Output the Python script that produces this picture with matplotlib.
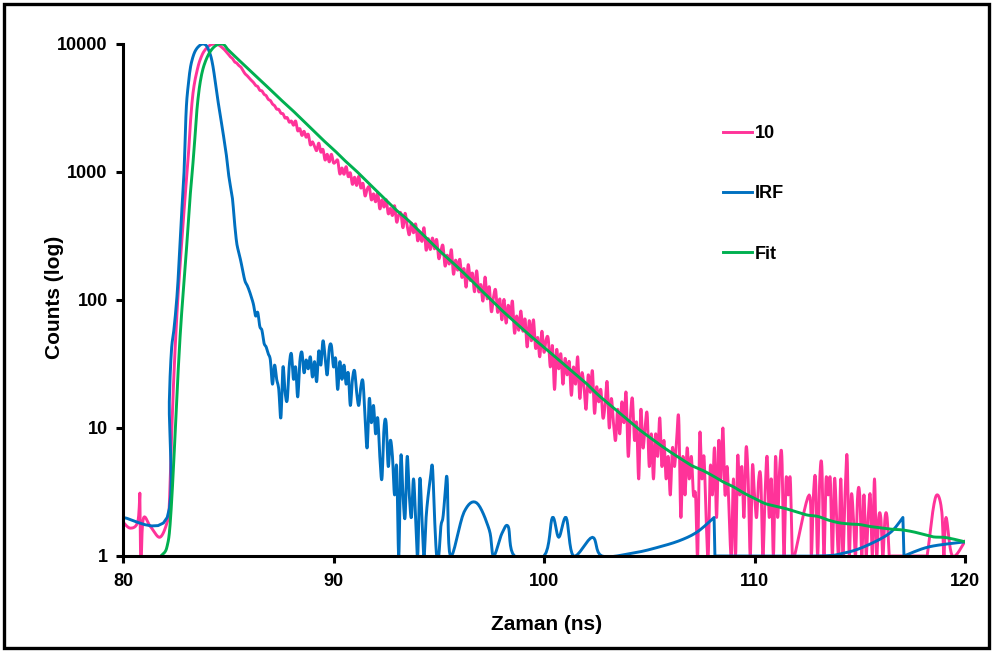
import numpy as np
import matplotlib
matplotlib.use("Agg")
import matplotlib.pyplot as plt
from matplotlib.patches import Rectangle

# ---------------- data ----------------
decay_label = "10"
irf_label = "IRF"
fit_label = "Fit"

x_ticks = [80, 90, 100, 110, 120]
y_ticks = [1, 10, 100, 1000, 10000]
y_tick_labels = ["1", "10", "100", "1000", "10000"]

# sample decay: sparse background before the rise (ns, counts)
decay_lead_t = [80.0, 80.35, 80.7, 80.8, 80.85, 80.95, 81.3, 81.75, 82.1]
decay_lead_v = [1.84, 1.65, 1.85, 3.1, 0.6, 1.9, 1.7, 1.4, 1.84]

# sample decay: 0.1 ns channels from 82.2 ns to 120.0 ns (0 = empty channel)
decay_start = 82.2
decay_step = 0.1
decay_counts = [
    2.5, 8, 22, 50, 100, 175, 300, 500, 800, 1300,
    2400, 3800, 5000, 6000, 7000, 7800, 8500, 9000, 9400, 9700,
    9900, 10000, 10000, 9900, 9700, 9400, 9100, 8700, 8350, 7950,
    7700, 7250, 7100, 6800, 6600, 6200, 5850, 5650, 5400, 5200,
    5000, 4750, 4650, 4350, 4300, 4050, 3950, 3700, 3620, 3400,
    3300, 3100, 3080, 2880, 2850, 2640, 2660, 2450, 2500, 2320,
    2500, 2100, 2180, 1930, 2080, 1870, 1970, 1630, 1720, 1580,
    1470, 1680, 1430, 1500, 1240, 1375, 1200, 1375, 1180, 1200,
    1230, 965, 1075, 960, 1100, 920, 985, 800, 910, 785,
    925, 750, 815, 650, 735, 760, 605, 675, 585, 685,
    515, 605, 532, 608, 472, 519, 457, 545, 406, 464,
    476, 367, 476, 379, 323, 399, 335, 393, 290, 336,
    287, 367, 245, 302, 248, 305, 251, 297, 211, 242,
    266, 184, 224, 191, 247, 159, 205, 171, 208, 150,
    176, 126, 189, 142, 162, 116, 169, 116, 132, 98,
    151, 102, 127, 81, 105, 120, 80, 102, 70, 101,
    66, 91, 73, 98, 55, 75, 58, 82, 57, 71,
    43, 69, 48, 70, 42, 51, 36, 57, 39, 49,
    50, 30, 44, 20, 41, 29, 38, 22, 35, 26,
    33, 18, 30, 22, 36, 17, 27, 21, 14, 26,
    19, 28, 13, 21, 16, 20, 12, 15, 23, 10,
    17, 11, 8, 14, 9, 16, 11, 19, 6, 12,
    17, 8, 11, 4, 14, 7, 10, 13, 5, 9,
    4, 9, 6, 12, 5, 8, 4, 6, 3, 7,
    5, 8, 12, 2, 6, 3, 7, 4, 6, 3,
    3, 1, 9, 4, 6, 2, 1, 5, 3, 7,
    2, 8, 4, 10, 3, 5, 2, 1, 4, 1,
    6, 3, 5, 2, 7, 4, 1, 5, 3, 2,
    4, 4, 1, 3, 6, 2, 4, 1, 6, 2,
    5, 6, 1, 4, 3, 4, 1, 1, 0, 0,
    0, 0, 0, 0, 3, 1, 3, 4, 1, 4,
    5, 1, 4, 3, 4, 1, 4, 2, 1, 4,
    1, 3, 6, 1, 3, 2, 1, 3, 3, 1,
    3, 1, 2, 3, 1, 4, 1, 2, 2, 1,
    2, 2, 1, 1, 1, 1, 1, 1, 1, 1,
    1, 1, 1, 1, 1, 1, 1, 1, 1, 1,
    1, 0, 0, 2.4, 0, 3, 0, 2.2, 1, 2,
    0, 0, 1, 0, 0, 0, 0, 0, 1.3,
]

# instrument response: flat background, then 0.1 ns channels from 82.1 ns
irf_lead_t = [80.0]
irf_lead_v = [2.0]
irf_start = 82.1
irf_step = 0.1
irf_counts = [
    2, 16, 40, 55, 80, 130, 260, 520, 1000, 3000,
    4800, 6500, 7700, 8600, 9200, 9600, 9900, 10000, 9900, 9500,
    8700, 7700, 6300, 4800, 3700, 2900, 2300, 1800, 1400, 1000,
    780, 620, 400, 280, 235, 200, 165, 140, 130, 118,
    105, 92, 75, 80, 62, 58, 46, 43, 38, 34,
    22, 31, 24, 20, 12, 30, 19, 16.5, 31, 38,
    24, 30, 17.5, 33, 39, 27, 34, 29, 36, 25,
    33, 23, 40, 31, 48, 36, 26, 42, 44, 30,
    35, 20, 33, 24, 31, 22, 27, 15, 24, 28,
    19, 15, 21, 23, 12, 7, 17, 11, 15, 9,
    12, 6, 4, 10, 11, 5, 8, 6, 3, 5,
    1, 6, 3, 2, 6, 3, 2, 4, 2, 1,
    4, 2, 1, 2, 3, 4, 5, 2, 1, 1,
    1.7, 2, 3, 4,
]
# instrument response: sparse tail (ns, counts)
irf_tail_t = [95.55, 96.2, 96.8, 97.4, 97.6, 98.0, 98.3, 98.6, 100.0, 100.4,
              100.7, 101.05, 101.4, 102.3, 102.75, 104.3, 105.5, 106.5, 107.3, 108.08,
              108.12, 113.0, 114.2, 115.2, 116.4, 117.05, 117.1, 118.3, 120.0]
irf_tail_v = [1, 2.2, 2.6, 1.6, 1, 1.5, 1.7, 1, 1, 2.0,
              1.4, 2.0, 1, 1.4, 1, 1.06, 1.18, 1.33, 1.55, 2.0,
              1, 1, 1.05, 1.18, 1.5, 2.0, 1, 1.18, 1.29]

# fitted curve (ns, counts)
fit_t = [81.8, 82.0, 82.1, 82.2, 82.3, 82.4, 82.5, 82.6, 82.7, 82.8,
         82.9, 83.0, 83.1, 83.2, 83.3, 83.4, 83.5, 83.6, 83.7, 83.8,
         83.9, 84.0, 84.1, 84.2, 84.3, 84.4, 84.5, 84.6, 84.7, 84.8,
         84.9, 85.0,
         85.5, 86.0, 86.5, 87.0, 87.5, 88.0, 88.5, 89.0, 89.5, 90.0,
         90.5, 91.0, 91.5, 92.0, 92.5, 93.0, 93.5, 94.0, 94.5, 95.0,
         95.5, 96.0, 96.5, 97.0, 97.5, 98.0, 98.5, 99.0, 99.5, 100.0,
         100.5, 101.0, 101.5, 102.0, 102.5, 103.0, 103.5, 104.0, 104.5, 105.0,
         105.5, 106.0, 106.5, 107.0, 107.5, 108.0, 108.5, 109.0, 109.5, 110.0,
         110.5, 111.0, 111.5, 112.0, 112.5, 113.0, 113.5, 114.0, 114.5, 115.0,
         115.5, 116.0, 116.5, 117.0, 117.5, 118.0, 118.5, 119.0, 119.5, 120.0]
fit_v = [1.0, 1.08, 1.2, 1.5, 2.5, 5, 11, 24, 48, 85,
         140, 230, 400, 680, 1050, 1700, 2900, 4200, 5400, 6400,
         7200, 7900, 8500, 9000, 9400, 9700, 9900, 10000, 10000, 9850,
         9450, 9000,
         7500, 6300, 5250, 4400, 3670, 3090, 2570, 2140, 1780, 1500,
         1245, 1050, 870, 724, 603, 501, 427, 355, 295, 245,
         207, 174, 145, 120, 100, 83, 70, 59, 50, 42.7,
         36.3, 30.9, 26.3, 22.4, 18.6, 15.8, 13.5, 11.5, 9.8, 8.5,
         7.4, 6.5, 5.75, 5.1, 4.7, 4.25, 3.8, 3.47, 3.1, 2.82,
         2.57, 2.45, 2.34, 2.21, 2.09, 2.04, 1.91, 1.82, 1.78, 1.76,
         1.70, 1.66, 1.62, 1.60, 1.55, 1.48, 1.41, 1.40, 1.35, 1.29]

# ---------------- helpers ----------------
def channel_series(lead_t, lead_v, start, step, counts):
    """Join a sparse lead-in with a regular channel grid, dropping empty channels."""
    t = list(lead_t) + [start + i * step for i in range(len(counts))]
    v = list(lead_v) + list(counts)
    keep = [c > 0 for c in v]
    return (np.array([a for a, k in zip(t, keep) if k]),
            np.array([b for b, k in zip(v, keep) if k]))


def smoothed(t, v, n=8):
    """Smoothed line through the points (cubic Bezier / Catmull-Rom in log space).
    Near-vertical steps (points closer than 0.06 ns) are kept as sharp corners."""
    t = np.asarray(t, float)
    y = np.log10(np.asarray(v, float))
    cuts = np.where(np.diff(t) < 0.06)[0] + 1
    xs, ys = [], []
    s = np.linspace(0.0, 1.0, n + 1)[1:, None]
    for idx in np.split(np.arange(len(t)), cuts):
        P = np.column_stack([t[idx], y[idx]])
        xs.append(P[:1, 0]); ys.append(P[:1, 1])
        if len(P) < 2:
            continue
        Q = np.vstack([P[0], P, P[-1]])
        for i in range(len(P) - 1):
            p0, p1, p2, p3 = Q[i], Q[i + 1], Q[i + 2], Q[i + 3]
            c1 = p1 + (p2 - p0) / 6.0
            c2 = p2 - (p3 - p1) / 6.0
            seg = ((1 - s) ** 3) * p1 + 3 * ((1 - s) ** 2) * s * c1 \
                + 3 * (1 - s) * s ** 2 * c2 + s ** 3 * p2
            xs.append(seg[:, 0]); ys.append(seg[:, 1])
    return np.concatenate(xs), 10 ** np.concatenate(ys)


# ---------------- figure ----------------
plt.rcParams["font.family"] = ["Liberation Sans", "DejaVu Sans"]
plt.rcParams["font.weight"] = "bold"

fig = plt.figure(figsize=(9.93, 6.51), dpi=100)
ax = fig.add_axes([123 / 993, 1 - 556 / 651, (965 - 123) / 993, (556 - 44) / 651])

PINK = "#FF3399"
BLUE = "#0070C0"
GREEN = "#00B050"
LW = 2.1

dt, dv = channel_series(decay_lead_t, decay_lead_v, decay_start, decay_step, decay_counts)
it, iv = channel_series(irf_lead_t, irf_lead_v, irf_start, irf_step, irf_counts)
it = np.concatenate([it, irf_tail_t])
iv = np.concatenate([iv, irf_tail_v])

ax.plot(*smoothed(dt, dv), color=PINK, lw=LW, label=decay_label, solid_joinstyle="round")
ax.plot(*smoothed(it, iv), color=BLUE, lw=LW, label=irf_label, solid_joinstyle="round")
ax.plot(*smoothed(fit_t, fit_v), color=GREEN, lw=LW, label=fit_label, solid_joinstyle="round")

ax.set_yscale("log")
ax.set_xlim(80, 120)
ax.set_ylim(1, 10000)
ax.set_xticks(x_ticks)
ax.set_xticklabels([str(x) for x in x_ticks])
ax.set_yticks(y_ticks)
ax.set_yticklabels(y_tick_labels)
ax.yaxis.set_minor_locator(matplotlib.ticker.NullLocator())

for side in ("top", "right"):
    ax.spines[side].set_visible(False)
for side in ("left", "bottom"):
    ax.spines[side].set_linewidth(2.2)
    ax.spines[side].set_capstyle("projecting")
ax.tick_params(axis="both", which="major", direction="out", length=5, width=2.2,
               labelsize=13, color="black")
ax.tick_params(axis="y", pad=6)
ax.tick_params(axis="x", pad=7)

ax.set_xlabel("Zaman (ns)", fontsize=15, fontweight="bold")
ax.set_ylabel("Counts (log)", fontsize=15, fontweight="bold")
ax.xaxis.set_label_coords((547 - 123) / 842, (556 - 624) / 512)
ax.xaxis.label.set_va("center")
ax.yaxis.set_label_coords((55 - 123) / 842, (556 - 297) / 512)
ax.yaxis.label.set_va("center")

fig.legend(loc="upper left", bbox_to_anchor=(723 / 993, 1 - 125 / 651),
           frameon=False, handlelength=1.6, handletextpad=0.15,
           labelspacing=2.4, borderpad=0, borderaxespad=0,
           prop={"weight": "bold", "size": 13})

fig.patches.append(Rectangle((4 / 993, 3 / 651), (989 - 4) / 993, (647 - 3) / 651,
                             transform=fig.transFigure, fill=False,
                             lw=2.4, ec="black", zorder=10))

fig.savefig("out.png", dpi=100)
